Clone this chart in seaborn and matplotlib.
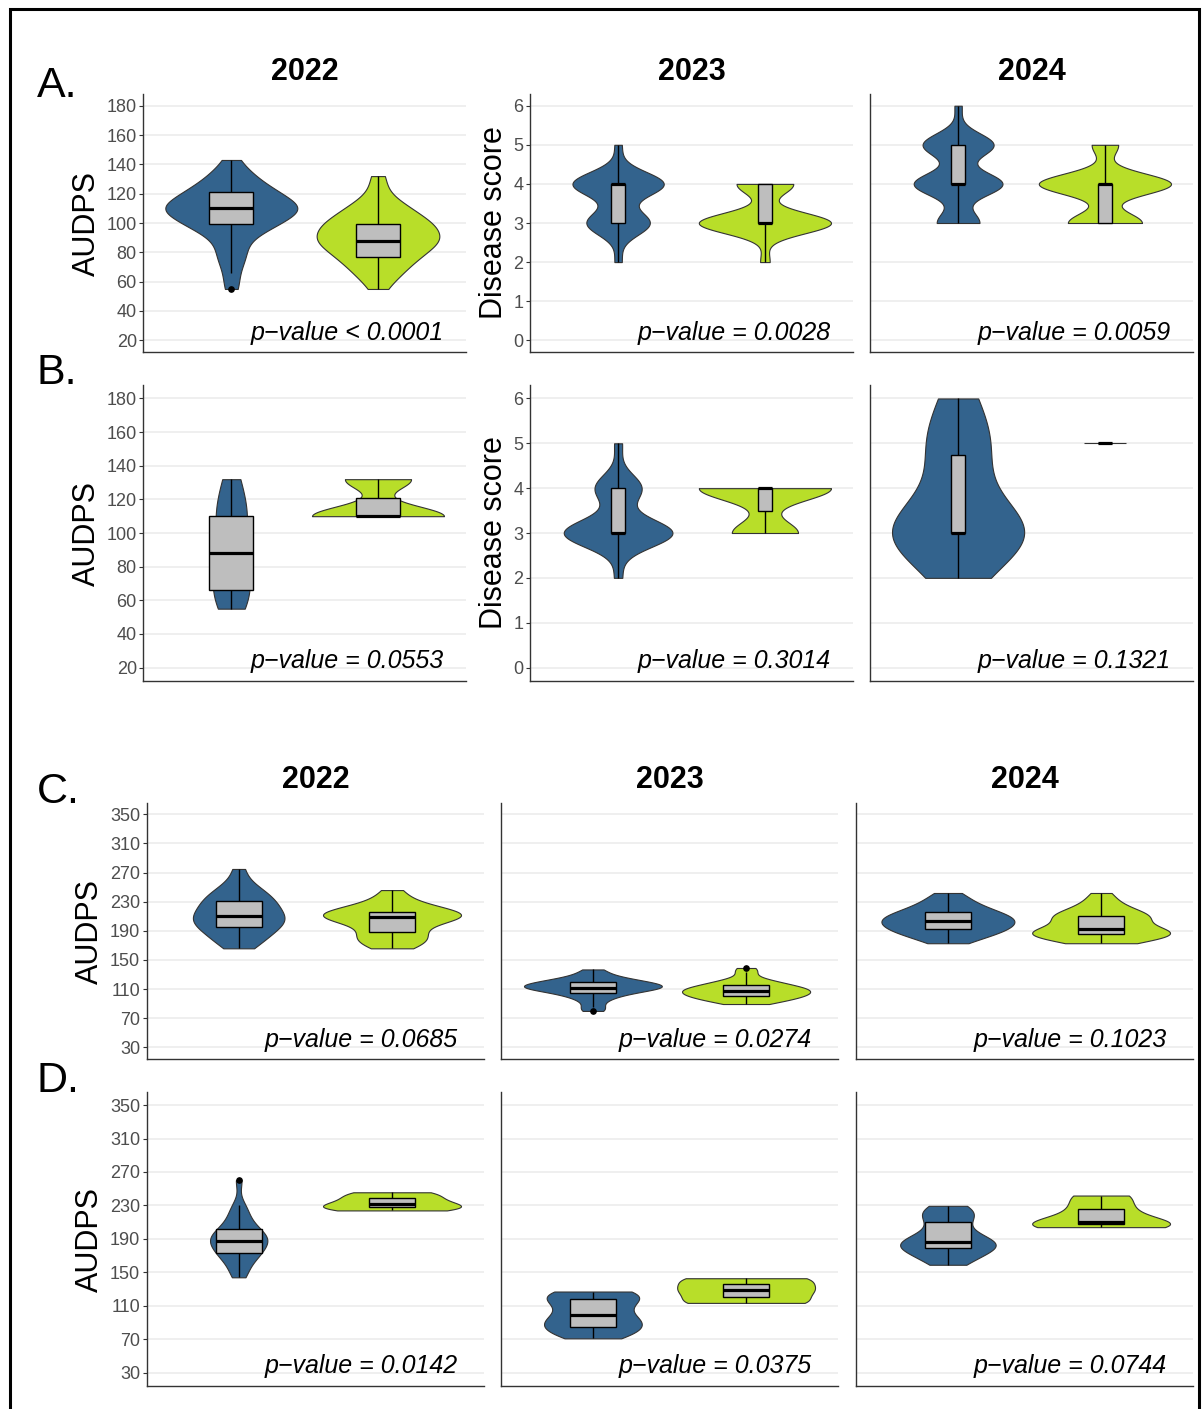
import numpy as np
import pandas as pd
import matplotlib.pyplot as plt
import seaborn as sns
from matplotlib.patches import Rectangle

sns.set_style("white")
plt.rcParams["font.family"] = ["Liberation Sans", "DejaVu Sans"]
plt.rcParams["text.color"] = "black"

groups = ["G1", "G2"]
colors = ["#33638D", "#B8DE29"]
years = ["2022", "2023", "2024"]

# 2022 AUDPS only takes multiples of 11 -> counts per level
audps_levels = [55, 66, 77, 88, 99, 110, 121, 132, 143]
a22_g1 = [1, 1, 2, 2, 6, 10, 6, 3, 1]
a22_g2 = [1, 3, 5, 8, 7, 4, 1, 1, 0]
b22_g1 = [1, 3, 1, 1, 1, 2, 1, 1, 0]
b22_g2 = [0, 0, 0, 0, 0, 2, 0, 1, 0]

# disease scores, counts per score
score_levels = [2, 3, 4, 5, 6]
a23_g1 = [1, 9, 13, 1, 0]
a23_g2 = [1, 14, 6, 0, 0]
a24_g1 = [0, 12, 25, 20, 2]
a24_g2 = [0, 14, 25, 5, 0]
b23_g1 = [1, 14, 6, 1, 0]
b23_g2 = [0, 1, 2, 0, 0]
b24_g1 = [1, 5, 1, 2, 1]
b24_g2 = [0, 0, 0, 2, 0]

# AUDPS second trial, raw values
c22_g1 = [166, 172, 178, 183, 187, 191, 195, 198, 201, 204, 206, 208, 210,
          213, 217, 221, 225, 228, 231, 234, 238, 243, 248, 255, 275]
c22_g2 = [166, 170, 174, 178, 181, 184, 188, 193, 198, 203, 206, 208, 209,
          210, 211, 212, 213, 214, 216, 218, 221, 224, 228, 236, 246]
c23_g1 = [80, 85, 93, 98, 102, 104, 105, 108, 110, 111, 112, 112, 112,
          114, 115, 116, 117, 118, 120, 121, 122, 124, 127, 131, 137]
c23_g2 = [89.5, 92, 94, 96, 98, 99, 100, 102, 103, 104, 105, 106, 108,
          109, 110, 111, 112, 113, 115, 117, 119, 121, 124, 133, 139]
c24_g1 = [173, 178, 182, 185, 188, 190, 192, 194, 196, 198, 200, 202, 204,
          206, 207, 209, 211, 213, 216, 218, 221, 225, 229, 235, 242]
c24_g2 = [173, 176, 178, 180, 182, 184, 186, 187, 188, 189, 190, 192, 193,
          197, 203, 206, 208, 209, 211, 213, 216, 220, 225, 232, 242]
d22_g1 = [144, 150, 158, 164, 168, 171, 173.5, 176, 179, 182, 185, 187, 188,
          190, 192, 194, 197, 199, 202, 206, 211, 217, 224, 231, 260]
d22_g2 = [224, 227.9, 231.9, 239, 245.7]
d23_g1 = [71, 74, 77, 80, 84, 85, 89, 92, 94, 96, 100.8, 106, 111, 114, 117,
          121, 124, 125.5, 126.5, 127]
d23_g2 = [113.4, 128.6, 142.9]
d24_g1 = [159, 164, 168, 172, 177.5, 179.4, 181, 183, 184.5, 185.5, 186.7,
          189, 194, 200, 208, 216, 219, 222, 225, 229.5]
d24_g2 = [204, 207.2, 210, 225.9, 241.8]

p_a = ["< 0.0001", "= 0.0028", "= 0.0059"]
p_b = ["= 0.0553", "= 0.3014", "= 0.1321"]
p_c = ["= 0.0685", "= 0.0274", "= 0.1023"]
p_d = ["= 0.0142", "= 0.0375", "= 0.0744"]


def expand(levels, counts):
    return np.repeat(levels, counts).astype(float)


def nrd0(kde):
    # R's bw.nrd0, as ggplot uses for geom_violin
    x = kde.dataset[0]
    sd = x.std(ddof=1)
    q75, q25 = np.percentile(x, [75, 25])
    lo = min(sd, (q75 - q25) / 1.34)
    if lo == 0:
        lo = sd
    return 0.9 * lo * len(x) ** -0.2 / sd


audps_ax = dict(ylim=(12, 188), yticks=range(20, 181, 20), boxw=0.3)
score_ax = dict(ylim=(-0.3, 6.3), yticks=range(0, 7), boxw=0.1)
audps2_ax = dict(ylim=(14, 366), yticks=range(30, 351, 40), boxw=0.3)

W, H = 1202, 1409
fig = plt.figure(figsize=(W / 100, H / 100), dpi=100)


def panel(x0, x1, y0, y1, g1, g2, spec, ptxt, px, labels):
    ax = fig.add_axes([x0 / W, 1 - y1 / H, (x1 - x0) / W, (y1 - y0) / H])
    df = pd.DataFrame({"group": [groups[0]] * len(g1) + [groups[1]] * len(g2),
                       "value": np.concatenate([g1, g2])})
    spread = df.groupby("group")["value"].transform("nunique") > 1
    sns.violinplot(data=df[spread], x="group", y="value", hue="group",
                   order=groups, hue_order=groups, palette=colors, saturation=1,
                   inner=None, cut=0, bw_method=nrd0, density_norm="area",
                   common_norm=True, width=0.9, linewidth=0.8,
                   linecolor="#333333", legend=False, ax=ax)
    # a group with one single value is drawn by ggplot as a flat line
    for i, g in enumerate((g1, g2)):
        if len(set(g)) == 1:
            ax.hlines(g[0], i - 0.145, i + 0.145, color="#333333", lw=0.8)
    sns.boxplot(data=df, x="group", y="value", order=groups, width=spec["boxw"],
                color="#BEBEBE", saturation=1, linecolor="black", linewidth=1.0,
                showcaps=False, fliersize=3.8,
                medianprops=dict(linewidth=2.3),
                flierprops=dict(marker="o", markerfacecolor="black"), ax=ax)
    ax.set_xlim(-0.6, 1.6)
    ax.set_ylim(*spec["ylim"])
    ax.set_yticks(list(spec["yticks"]))
    ax.set_xticks([])
    ax.set_xlabel("")
    ax.set_ylabel("")
    ax.yaxis.grid(True, color="#EBEBEB", lw=1.1)
    ax.xaxis.grid(False)
    ax.set_axisbelow(True)
    for s in ["top", "right"]:
        ax.spines[s].set_visible(False)
    for s in ["left", "bottom"]:
        ax.spines[s].set_color("#333333")
        ax.spines[s].set_linewidth(1.0)
    ax.tick_params(axis="y", length=3.2, width=0.8, color="#333333", pad=1.5,
                   labelsize=13, labelcolor="#4D4D4D",
                   left=labels, labelleft=labels)
    ax.text(px, spec["yticks"][0], "p\u2212value " + ptxt, ha="right",
            va="baseline", fontstyle="italic", fontsize=18, color="black")
    return ax


cols_ab = [(143.3, 466), (530, 853), (870, 1193)]
cols_cd = [(146.7, 484), (501, 838), (856, 1193)]

row_a = [(expand(audps_levels, a22_g1), expand(audps_levels, a22_g2), audps_ax),
         (expand(score_levels, a23_g1), expand(score_levels, a23_g2), score_ax),
         (expand(score_levels, a24_g1), expand(score_levels, a24_g2), score_ax)]
row_b = [(expand(audps_levels, b22_g1), expand(audps_levels, b22_g2), audps_ax),
         (expand(score_levels, b23_g1), expand(score_levels, b23_g2), score_ax),
         (expand(score_levels, b24_g1), expand(score_levels, b24_g2), score_ax)]
row_c = [(np.array(c22_g1), np.array(c22_g2), audps2_ax),
         (np.array(c23_g1), np.array(c23_g2), audps2_ax),
         (np.array(c24_g1), np.array(c24_g2), audps2_ax)]
row_d = [(np.array(d22_g1), np.array(d22_g2), audps2_ax),
         (np.array(d23_g1), np.array(d23_g2), audps2_ax),
         (np.array(d24_g1), np.array(d24_g2), audps2_ax)]

# which panels keep their y tick labels
labels_ab = [True, True, False]
labels_cd = [True, False, False]

layout = [(row_a, cols_ab, (94, 352), p_a, 1.45, labels_ab),
          (row_b, cols_ab, (385, 681), p_b, 1.45, labels_ab),
          (row_c, cols_cd, (802.7, 1059), p_c, 1.43, labels_cd),
          (row_d, cols_cd, (1091.7, 1386), p_d, 1.43, labels_cd)]

for rdata, cols, (y0, y1), ptxts, px, labs in layout:
    for (g1, g2, spec), (x0, x1), pt, lab in zip(rdata, cols, ptxts, labs):
        panel(x0, x1, y0, y1, g1, g2, spec, pt, px, lab)


def ftext(x, y, s, **kw):
    fig.text(x / W, 1 - y / H, s, color="black", **kw)


# year titles
for (x0, x1), yr in zip(cols_ab, years):
    ftext((x0 + x1) / 2, 80, yr, ha="center", va="baseline", fontsize=22, fontweight="bold")
for (x0, x1), yr in zip(cols_cd, years):
    ftext((x0 + x1) / 2, 788, yr, ha="center", va="baseline", fontsize=22, fontweight="bold")

# panel letters
for lab, yb in zip(["A.", "B.", "C.", "D."], [96.7, 384, 803, 1092]):
    ftext(37, yb, lab, ha="left", va="baseline", fontsize=31)

# y axis titles
for x, yc, lab in [(87, 223, "AUDPS"), (87, 533, "AUDPS"),
                   (90, 931, "AUDPS"), (90, 1239, "AUDPS"),
                   (494, 223, "Disease score"), (494, 533, "Disease score")]:
    ftext(x, yc, lab, rotation=90, ha="center", va="center", fontsize=22)

fig.patches.append(Rectangle((10 / W, -0.02), 1189 / W, 1 - 9 / H + 0.02,
                             transform=fig.transFigure, fill=False,
                             lw=2.2, ec="black"))

fig.savefig("out.png", dpi=100)
